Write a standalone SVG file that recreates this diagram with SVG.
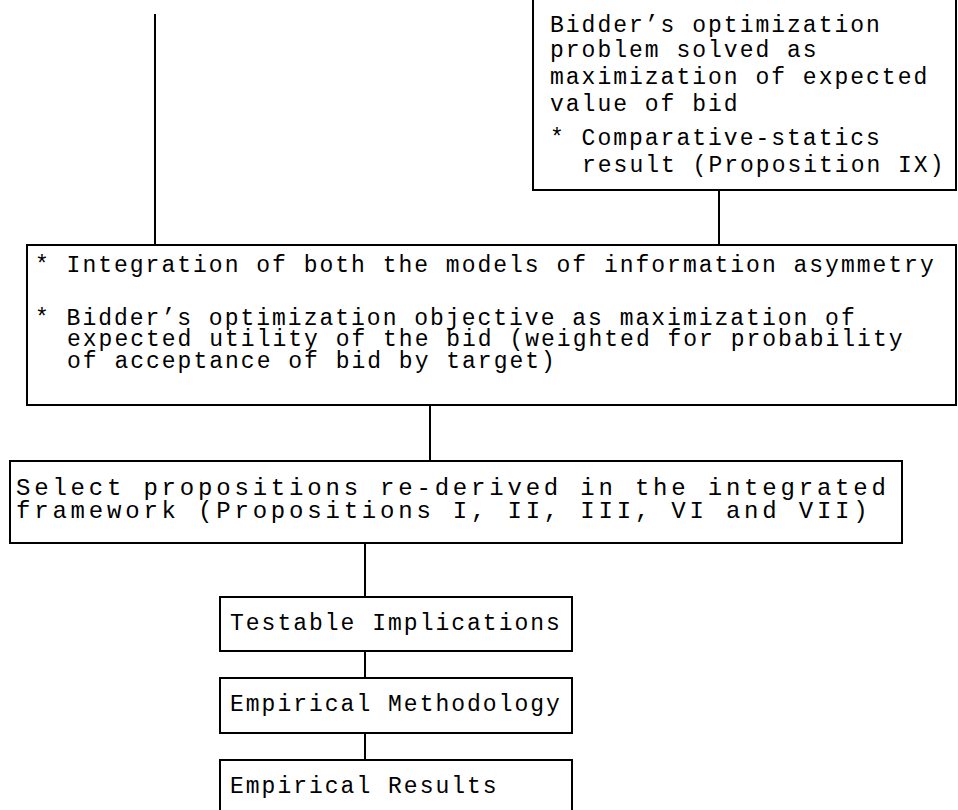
<svg xmlns="http://www.w3.org/2000/svg" width="958" height="810" viewBox="0 0 958 810">
<style>
  .box { fill: #ffffff; stroke: #000000; stroke-width: 2; }
  .conn { stroke: #000000; stroke-width: 2; fill: none; }
  .t { font-family: "Liberation Mono", "Courier New", monospace; font-size: 23px; letter-spacing: 2px; fill: #000000; }
  .w { font-size: 24px; letter-spacing: 3.8px; }
</style>
<rect width="958" height="810" fill="#ffffff"/>
<g id="connectors">
  <line class="conn" x1="155" y1="14" x2="155" y2="245"/>
  <line class="conn" x1="719" y1="190" x2="719" y2="245"/>
  <line class="conn" x1="430" y1="405" x2="430" y2="461"/>
  <line class="conn" x1="365" y1="543" x2="365" y2="597"/>
  <line class="conn" x1="365" y1="651" x2="365" y2="678"/>
  <line class="conn" x1="365" y1="733" x2="365" y2="760"/>
</g>
<g id="node-bidder-problem">
  <rect class="box" x="533" y="-4" width="423" height="194"/>
  <text class="t" x="550" y="32">Bidder’s optimization</text>
  <text class="t" x="550" y="57">problem solved as</text>
  <text class="t" x="550" y="84">maximization of expected</text>
  <text class="t" x="550" y="111">value of bid</text>
  <text class="t" x="550" y="145">* Comparative-statics</text>
  <text class="t" x="582" y="172">result (Proposition IX)</text>
</g>
<g id="node-integration">
  <rect class="box" x="27" y="245" width="929" height="160"/>
  <text class="t" x="35" y="272">* Integration of both the models of information asymmetry</text>
  <text class="t" x="35" y="325">* Bidder’s optimization objective as maximization of</text>
  <text class="t" x="67" y="346">expected utility of the bid (weighted for probability</text>
  <text class="t" x="67" y="368">of acceptance of bid by target)</text>
</g>
<g id="node-select">
  <rect class="box" x="10" y="461" width="892" height="82"/>
  <text class="t w" x="16" y="495">Select propositions re-derived in the integrated</text>
  <text class="t w" x="16" y="518">framework (Propositions I, II, III, VI and VII)</text>
</g>
<g id="node-testable">
  <rect class="box" x="220" y="597" width="352" height="54"/>
  <text class="t" x="230" y="630">Testable Implications</text>
</g>
<g id="node-methodology">
  <rect class="box" x="220" y="678" width="352" height="55"/>
  <text class="t" x="230" y="711">Empirical Methodology</text>
</g>
<g id="node-results">
  <rect class="box" x="220" y="760" width="352" height="60"/>
  <text class="t" x="230" y="793">Empirical Results</text>
</g>
</svg>
